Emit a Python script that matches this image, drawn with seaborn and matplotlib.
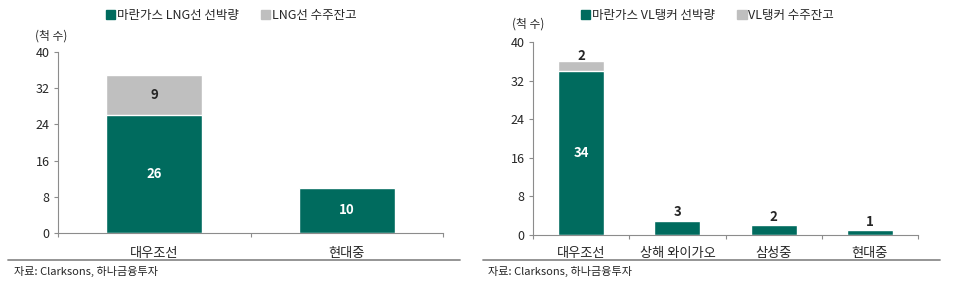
import matplotlib
matplotlib.use("Agg")
import matplotlib.pyplot as plt
import matplotlib.patches as mpatches
import seaborn as sns
import pandas as pd
from matplotlib.lines import Line2D

sns.set_theme(style="white")
plt.rcParams['font.family'] = ['Noto Sans CJK KR', 'DejaVu Sans']

# ---- data ----
left_cats = ["대우조선", "현대중"]
left_fleet = [26, 10]
left_backlog = [9, 0]
left_series = ["마란가스 LNG선 선박량", "LNG선 수주잔고"]

right_cats = ["대우조선", "상해 와이가오", "삼성중", "현대중"]
right_fleet = [34, 3, 2, 1]
right_backlog = [2, 0, 0, 0]
right_series = ["마란가스 VL탱커 선박량", "VL탱커 수주잔고"]

y_ticks = [0, 8, 16, 24, 32, 40]
unit_label = "(척 수)"
source_text = "자료: Clarksons, 하나금융투자"

GREEN = "#006B5E"
GRAY = "#BFBFBF"
TXT = "#262626"
AX = "#8C8C8C"

W, H = 960, 284
fig = plt.figure(figsize=(W / 100, H / 100), dpi=100)


def px_axes(x0, y0, x1, y1):
    return fig.add_axes([x0 / W, 1 - y1 / H, (x1 - x0) / W, (y1 - y0) / H])


def draw(ax, cats, fleet, backlog, width, inside_labels, xpad):
    totals = [f + b for f, b in zip(fleet, backlog)]
    df = pd.DataFrame({"cat": cats, "fleet": fleet, "total": totals})
    sns.barplot(data=df, x="cat", y="total", color=GRAY, width=width,
                saturation=1, ax=ax, order=cats)
    sns.barplot(data=df, x="cat", y="fleet", color=GREEN, width=width,
                saturation=1, ax=ax, order=cats)
    n = len(cats)
    ax.set_xlim(-0.5, n - 0.5)
    ax.set_ylim(0, 40)
    ax.set_yticks(y_ticks)
    ax.set_xlabel("")
    ax.set_ylabel("")
    for s in ["top", "right"]:
        ax.spines[s].set_visible(False)
    for s in ["left", "bottom"]:
        ax.spines[s].set_color(AX)
        ax.spines[s].set_linewidth(0.8)
    ax.tick_params(axis="y", labelsize=9, colors=AX, labelcolor=TXT,
                   length=3, width=0.8, direction="out", left=True, pad=3)
    ax.tick_params(axis="x", which="major", labelsize=9.5, labelcolor=TXT,
                   length=0, pad=xpad)
    ax.set_xticks([i - 0.5 for i in range(n + 1)], minor=True)
    ax.tick_params(axis="x", which="minor", length=3, width=0.8, colors=AX,
                   direction="out", bottom=True)
    ax.grid(False)
    for i, (f, b) in enumerate(zip(fleet, backlog)):
        if inside_labels or i == 0:
            ax.text(i, f / 2, str(f), ha="center", va="center", color="white",
                    fontsize=9.5, fontweight="bold")
        else:
            ax.annotate(str(f), (i, f), xytext=(0, 1), textcoords="offset points",
                        ha="center", va="bottom", color=TXT, fontsize=9.5,
                        fontweight="bold")
        if b:
            if inside_labels:
                ax.text(i, f + b / 2, str(b), ha="center", va="center", color=TXT,
                        fontsize=9.5, fontweight="bold")
            else:
                ax.annotate(str(b), (i, f + b), xytext=(0, -1),
                            textcoords="offset points", ha="center", va="bottom",
                            color=TXT, fontsize=9.5, fontweight="bold")


axL = px_axes(58, 52, 443, 233)
draw(axL, left_cats, left_fleet, left_backlog, 0.5, True, 10)
axR = px_axes(533, 42, 918, 235)
draw(axR, right_cats, right_fleet, right_backlog, 0.48, False, 9)

# legends
def legend(x, y, labels):
    handles = [mpatches.Patch(color=GREEN, label=labels[0]),
               mpatches.Patch(color=GRAY, label=labels[1])]
    fig.legend(handles=handles, loc="center left", bbox_to_anchor=(x / W, 1 - y / H),
               ncol=2, frameon=False, fontsize=9, handlelength=0.75,
               handleheight=0.75, handletextpad=0.1, columnspacing=1.8,
               labelcolor=TXT, borderpad=0, borderaxespad=0)

legend(106, 15, left_series)
legend(581, 15, right_series)

# unit labels
fig.text(35 / W, 1 - 36 / H, unit_label, fontsize=8.5, color=TXT, va="center")
fig.text(512 / W, 1 - 24 / H, unit_label, fontsize=8.5, color=TXT, va="center")

# separators & source
fig.add_artist(Line2D([8 / W, 460 / W], [1 - 260 / H] * 2, color="#8C8C8C", lw=1.3))
fig.add_artist(Line2D([483 / W, 940 / W], [1 - 260 / H] * 2, color="#8C8C8C", lw=1.3))
fig.text(14 / W, 1 - 271 / H, source_text, fontsize=8, color=TXT, va="center")
fig.text(488 / W, 1 - 271 / H, source_text, fontsize=8, color=TXT, va="center")

fig.savefig("out.png", dpi=100, facecolor="white")
